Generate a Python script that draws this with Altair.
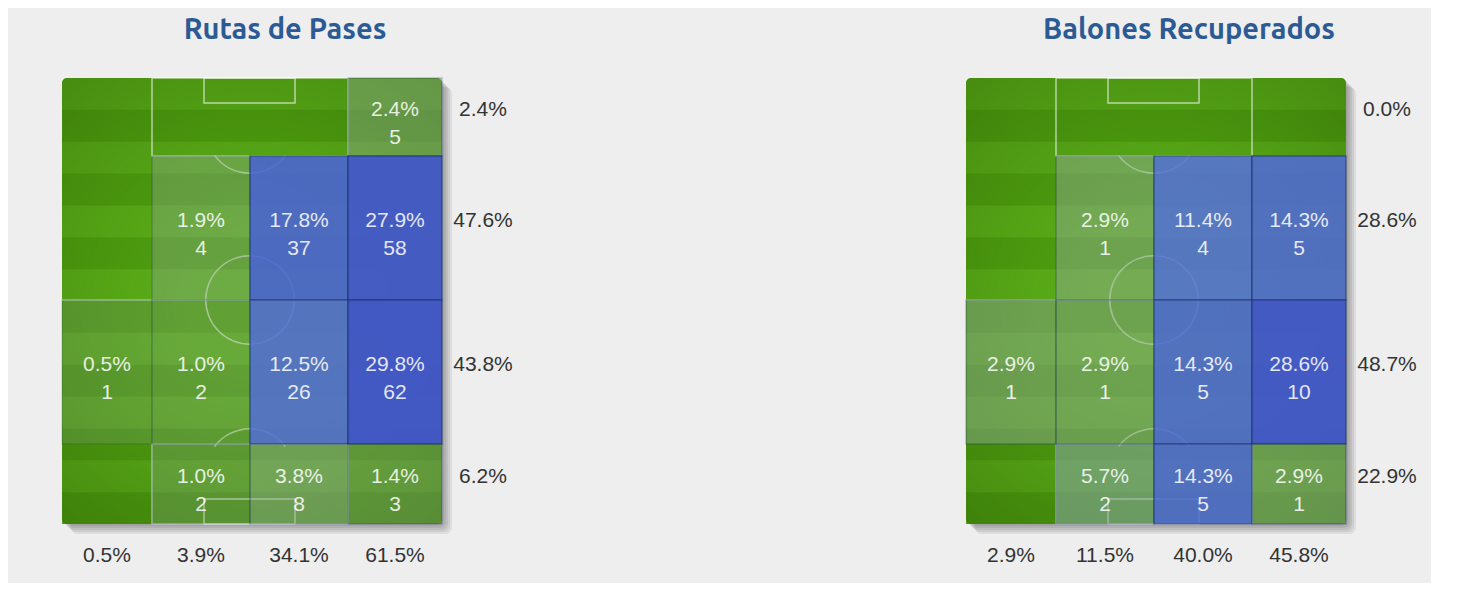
import altair as alt
import pandas as pd

# ---------------- data ----------------
titles = ["Rutas de Pases", "Balones Recuperados"]

# rows top -> bottom, columns left -> right
pases_pct = [[0, 0, 0, 2.4],
             [0, 1.9, 17.8, 27.9],
             [0.5, 1.0, 12.5, 29.8],
             [0, 1.0, 3.8, 1.4]]
pases_cnt = [[0, 0, 0, 5],
             [0, 4, 37, 58],
             [1, 2, 26, 62],
             [0, 2, 8, 3]]
pases_row_tot = ["2.4%", "47.6%", "43.8%", "6.2%"]
pases_col_tot = ["0.5%", "3.9%", "34.1%", "61.5%"]

rec_pct = [[0, 0, 0, 0],
           [0, 2.9, 11.4, 14.3],
           [2.9, 2.9, 14.3, 28.6],
           [0, 5.7, 14.3, 2.9]]
rec_cnt = [[0, 0, 0, 0],
           [0, 1, 4, 5],
           [1, 1, 5, 10],
           [0, 2, 5, 1]]
rec_row_tot = ["0.0%", "28.6%", "48.7%", "22.9%"]
rec_col_tot = ["2.9%", "11.5%", "40.0%", "45.8%"]

# ---------------- layout ----------------
PITCH_W, PITCH_H = 380, 446
COL_EDGES = [0, 90, 188, 286, 380]
ROW_EDGES = [0, 78, 222, 366, 446]
PANEL_W, PANEL_H = 460, 500
N_STRIPES = 14
ROW_LABEL_X = 421
COL_LABEL_Y = 478

xs = alt.Scale(domain=[0, PANEL_W], nice=False, zero=False)
ys = alt.Scale(domain=[0, PANEL_H], nice=False, zero=False, reverse=True)


def X(f):
    return alt.X(f, type="quantitative", scale=xs, axis=None)


def Y(f):
    return alt.Y(f, type="quantitative", scale=ys, axis=None)


def rect_layer(df, **mark):
    return alt.Chart(df).mark_rect(**mark).encode(
        x=X("x0"), x2="x1", y=Y("y0"), y2="y1")


def panel(title, pct, cnt, row_tot, col_tot):
    # shadow
    shadow = pd.DataFrame([{"x0": o - 1, "x1": PITCH_W + o, "y0": o - 1, "y1": PITCH_H + o}
                           for o in (2, 4, 6, 8, 10)])
    shadow_l = rect_layer(shadow, color="#000000", opacity=0.07, cornerRadius=7)

    base = pd.DataFrame([{"x0": 0, "x1": PITCH_W, "y0": 0, "y1": PITCH_H}])
    base_l = rect_layer(base, color="#5bae18", cornerRadius=5)

    sh = PITCH_H / N_STRIPES
    stripes = pd.DataFrame([{"x0": 0, "x1": PITCH_W, "y0": i * sh, "y1": (i + 1) * sh}
                            for i in range(1, N_STRIPES, 2)])
    stripes_l = rect_layer(stripes, color="#4f9f10")

    vignette_l = rect_layer(base, cornerRadius=5, color={
        "gradient": "radial", "x1": 0.5, "y1": 0.5, "x2": 0.5, "y2": 0.5,
        "r1": 0.15, "r2": 0.75,
        "stops": [{"offset": 0, "color": "rgba(40,90,0,0)"},
                  {"offset": 1, "color": "rgba(30,70,0,0.4)"}]})

    # pitch lines
    cx = COL_EDGES[2]
    boxes = pd.DataFrame([
        {"x0": 142, "x1": 233, "y0": 0, "y1": 25},
        {"x0": COL_EDGES[1], "x1": COL_EDGES[3], "y0": 0, "y1": ROW_EDGES[1]},
        {"x0": COL_EDGES[1], "x1": COL_EDGES[3], "y0": ROW_EDGES[3], "y1": PITCH_H},
        {"x0": 142, "x1": 233, "y0": 421, "y1": PITCH_H},
    ])
    boxes_l = rect_layer(boxes, filled=False, stroke="white", strokeWidth=1.5,
                         strokeOpacity=0.6)
    halfway = pd.DataFrame([{"x0": 0, "x1": PITCH_W, "y0": ROW_EDGES[2], "y1": ROW_EDGES[2]}])
    half_l = alt.Chart(halfway).mark_rule(color="white", strokeWidth=1.5, opacity=0.5).encode(
        x=X("x0"), x2="x1", y=Y("y0"))

    def arc(cyv, t0, t1):
        d = pd.DataFrame([{"cx": cx, "cy": cyv}])
        return alt.Chart(d).mark_arc(radius=45, radius2=43.5, theta=t0, theta2=t1,
                                     color="white", opacity=0.55).encode(
            x=X("cx"), y=Y("cy"))

    arcs = [arc(ROW_EDGES[2], 0, 6.2832),
            arc(51, 2.214, 4.069),
            arc(PITCH_H - 51, 5.356, 7.210)]

    # zone overlay cells
    cells = []
    for r in range(4):
        for c in range(4):
            if cnt[r][c] > 0:
                cells.append({"x0": COL_EDGES[c], "x1": COL_EDGES[c + 1],
                              "y0": ROW_EDGES[r], "y1": ROW_EDGES[r + 1],
                              "xc": (COL_EDGES[c] + COL_EDGES[c + 1]) / 2,
                              "yc": (ROW_EDGES[r] + ROW_EDGES[r + 1]) / 2,
                              "pct": pct[r][c],
                              "pct_txt": f"{pct[r][c]:.1f}%",
                              "cnt": str(cnt[r][c])})
    cdf = pd.DataFrame(cells)
    cells_l = alt.Chart(cdf).mark_rect(stroke="#1a2f6a", strokeWidth=1.5,
                                       strokeOpacity=0.6).encode(
        x=X("x0"), x2="x1", y=Y("y0"), y2="y1",
        color=alt.Color("pct:Q", legend=None, scale=alt.Scale(
            domain=[0, 4, 7, 11, 15, 30],
            range=["#8aa08e", "#92ac98", "#8aa0a8", "#5873d8", "#4f69d4", "#4255cc"])),
        opacity=alt.Opacity("pct:Q", legend=None, scale=alt.Scale(
            domain=[0, 3, 7, 11, 30], range=[0.18, 0.48, 0.6, 0.87, 0.95])))

    txt_kw = dict(font="Liberation Sans", fontSize=21, color="white", opacity=0.85,
                  baseline="middle", align="center")
    pct_l = alt.Chart(cdf).mark_text(dy=-7, **txt_kw).encode(
        x=X("xc"), y=Y("yc"), text="pct_txt:N")
    cnt_l = alt.Chart(cdf).mark_text(dy=21, **txt_kw).encode(
        x=X("xc"), y=Y("yc"), text="cnt:N")

    tot_kw = dict(font="Liberation Sans", fontSize=21, color="#333333",
                  baseline="middle", align="center")
    rdf = pd.DataFrame({"x": [ROW_LABEL_X] * 4,
                        "y": [(ROW_EDGES[i] + ROW_EDGES[i + 1]) / 2 for i in range(4)],
                        "t": row_tot})
    row_l = alt.Chart(rdf).mark_text(dy=-7, **tot_kw).encode(x=X("x"), y=Y("y"), text="t:N")
    kdf = pd.DataFrame({"x": [(COL_EDGES[i] + COL_EDGES[i + 1]) / 2 for i in range(4)],
                        "y": [COL_LABEL_Y] * 4, "t": col_tot})
    col_l = alt.Chart(kdf).mark_text(**tot_kw).encode(x=X("x"), y=Y("y"), text="t:N")

    layers = [shadow_l, base_l, stripes_l, vignette_l, boxes_l, half_l] + arcs + \
             [cells_l, pct_l, cnt_l, row_l, col_l]
    return alt.layer(*layers).properties(
        width=PANEL_W, height=PANEL_H,
        title=alt.TitleParams(title, fontSize=29, font="Ubuntu, Open Sans",
                              fontWeight="bold", color="#2c5a94", anchor="middle",
                              dx=-7, offset=32))


left = panel(titles[0], pases_pct, pases_cnt, pases_row_tot, pases_col_tot)
right = panel(titles[1], rec_pct, rec_cnt, rec_row_tot, rec_col_tot)

chart = alt.hconcat(left, right, spacing=443).properties(
    padding={"left": 53, "top": 8, "right": 5, "bottom": 5},
    background="#eeeeee",
).configure_view(stroke=None)

chart.save("out.html", embed_options={"renderer": "svg", "actions": False})
